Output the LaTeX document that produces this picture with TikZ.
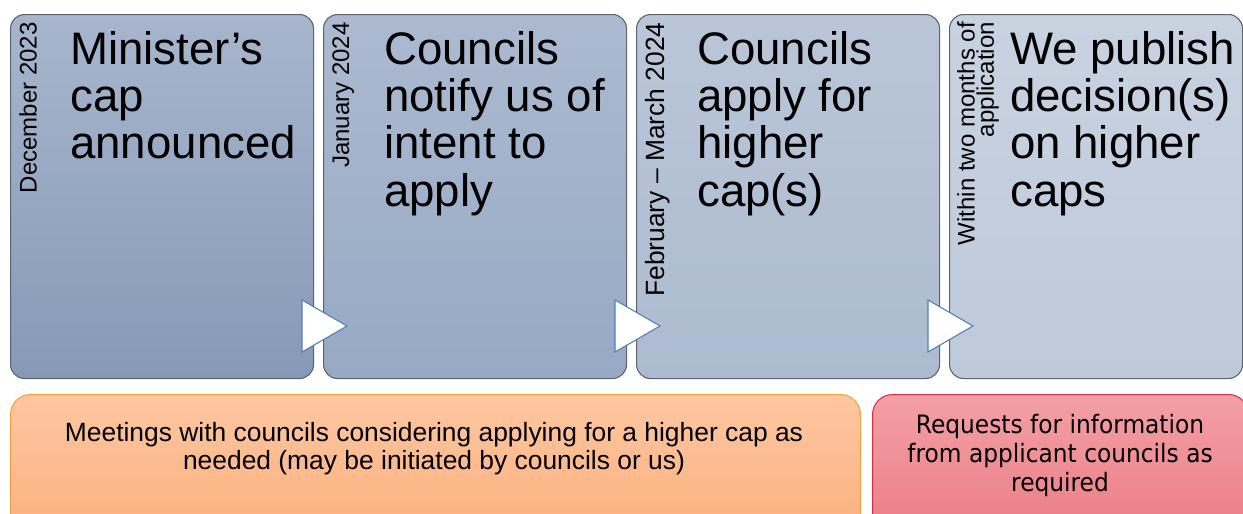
\documentclass[tikz,border=0pt]{standalone}
\usepackage{fontspec}
\setmainfont{Liberation Sans}
\newfontfamily\tahfont[FakeStretch=0.92]{DejaVu Sans}
\definecolor{boxline}{HTML}{5C636E}
\definecolor{bAtop}{HTML}{A7B6CD}
\definecolor{bAbot}{HTML}{8699B7}
\definecolor{bBtop}{HTML}{ABBAD0}
\definecolor{bBbot}{HTML}{97A9C4}
\definecolor{bCtop}{HTML}{BAC6D8}
\definecolor{bCbot}{HTML}{ADBBD0}
\definecolor{bDtop}{HTML}{C9D2E1}
\definecolor{bDbot}{HTML}{BEC9DA}
\definecolor{oTop}{HTML}{FDC7A1}
\definecolor{oBot}{HTML}{FBAE7C}
\definecolor{oLine}{HTML}{F6A040}
\definecolor{rTop}{HTML}{F3A0A6}
\definecolor{rBot}{HTML}{EB7B83}
\definecolor{rLine}{HTML}{D72D4A}
\definecolor{triline}{HTML}{4E80B6}
\begin{document}
\begin{tikzpicture}[x=0.75pt,y=-0.75pt,
  stagebox/.style={draw=boxline, line width=0.8pt, rounded corners=10.5pt, anchor=north west,
    minimum width=227.25pt, minimum height=273pt, inner sep=0pt},
  titletext/.style={anchor=north west, inner sep=0pt, align=left,
    font=\fontsize{34.2}{35.5}\selectfont},
  datetext/.style={anchor=north east, inner sep=0pt, rotate=90, align=right,
    font=\fontsize{18}{14.5}\selectfont},
  tri/.style={fill=white, draw=triline, line width=0.8pt, line join=miter},
  bottombox/.style={anchor=north west, rounded corners=15pt, line width=0.8pt, inner sep=0pt}]
\clip (0,0) rectangle (1243,514);
% stage boxes
\node[stagebox, top color=bAtop, bottom color=bAbot] (s1) at (10,14) {};
\node[stagebox, top color=bBtop, bottom color=bBbot] (s2) at (323,14) {};
\node[stagebox, top color=bCtop, bottom color=bCbot] (s3) at (636,14) {};
\node[stagebox, top color=bDtop, bottom color=bDbot, minimum width=219.75pt] (s4) at (949,14) {};
% dates
\node[datetext] (d1) at (19,22) {December 2023};
\node[datetext] (d2) at (332,22) {January 2024};
\node[datetext, font=\fontsize{19.8}{14.5}\selectfont] (d3) at (645,22) {February – March 2024};
\node[datetext] (d4) at (957,22) {Within two months of\\application};
% titles
\node[titletext] (t1) at (70,31) {Minister’s\\cap\\announced};
\node[titletext] (t2) at (384,31) {Councils\\notify us of\\intent to\\apply};
\node[titletext] (t3) at (697,31) {Councils\\apply for\\higher\\cap(s)};
\node[titletext] (t4) at (1010,31) {We publish\\decision(s)\\on higher\\caps};
% arrows
\filldraw[tri] (302,300) -- (347,326) -- (302,352) -- cycle;
\filldraw[tri] (615,300) -- (660,326) -- (615,352) -- cycle;
\filldraw[tri] (928,300) -- (973,326) -- (928,352) -- cycle;
% bottom boxes
\node[bottombox, draw=oLine, top color=oTop, bottom color=oBot,
  minimum width=637.5pt, minimum height=112pt] (meet) at (10,394) {};
\node[bottombox, draw=rLine, top color=rTop, bottom color=rBot,
  minimum width=282pt, minimum height=112pt] (req) at (872,394) {};
\node[align=center, inner sep=0pt, font=\fontsize{19.8}{21}\selectfont]
  (meettext) at (434,449) {Meetings with councils considering applying for a higher cap as\\needed (may be initiated by councils or us)};
\node[align=center, inner sep=0pt, font=\tahfont\fontsize{19}{21.75}\selectfont]
  (reqtext) at (1060,456) {Requests for information\\from applicant councils as\\required};
\end{tikzpicture}
\end{document}
